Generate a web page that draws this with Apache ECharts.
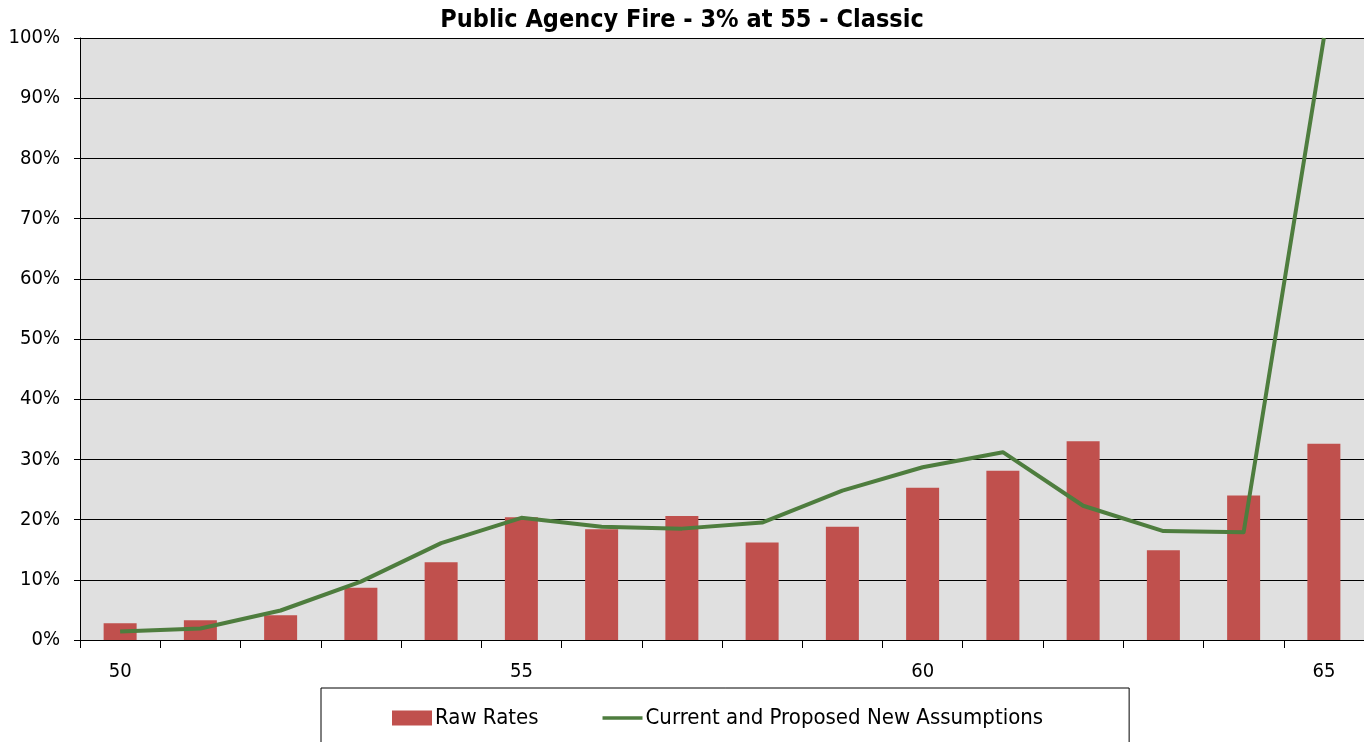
<!DOCTYPE html>
<html>
<head>
<meta charset="utf-8">
<script src="https://cdn.jsdelivr.net/npm/echarts@6/dist/echarts.min.js"></script>
<style>
  html, body { margin: 0; padding: 0; background: #fff; }
  #chart { width: 1364px; height: 742px; }
</style>
</head>
<body>
<div id="chart"></div>
<script>
// ages along the x axis
const ages = ['50', '51', '52', '53', '54', '55', '56', '57', '58', '59', '60', '61', '62', '63', '64', '65'];
// raw rates (%)
const rawRates = [2.8, 3.3, 4.1, 8.7, 12.9, 20.4, 18.4, 20.6, 16.2, 18.8, 25.3, 28.1, 33.0, 14.9, 24.0, 32.6];
// current and proposed new assumptions (%)
const assumptions = [1.4, 1.9, 4.9, 9.7, 16.1, 20.3, 18.8, 18.5, 19.5, 24.8, 28.7, 31.2, 22.3, 18.1, 17.9, 100];

const FONT = '"DejaVu Sans Condensed", "Liberation Sans", sans-serif';

const chart = echarts.init(document.getElementById('chart'), null, { renderer: 'canvas' });

chart.setOption({
  animation: false,
  textStyle: { fontFamily: FONT, color: '#000' },
  title: {
    text: 'Public Agency Fire - 3% at 55 - Classic',
    left: 'center',
    top: 3,
    textStyle: { fontFamily: FONT, fontSize: 25, fontWeight: 'bold', color: '#000' }
  },
  grid: {
    left: 80, right: 0, top: 38, bottom: 102,
    show: true, backgroundColor: '#E0E0E0', borderWidth: 0
  },
  legend: {
    left: 321, top: 688,
    padding: [19, 86, 40, 71],
    itemGap: 64,
    itemWidth: 40, itemHeight: 15,
    borderColor: '#000', borderWidth: 1,
    textStyle: { fontFamily: FONT, fontSize: 22, color: '#000', padding: [0, 0, 0, -2] },
    data: [
      { name: 'Raw Rates', icon: 'rect' },
      // plain line icon, no symbol
      { name: 'Current and Proposed New Assumptions', icon: 'path://M0,0 M0,5.8 H40 V9.2 H0 Z M40,15' }
    ]
  },
  xAxis: {
    type: 'category',
    data: ages,
    boundaryGap: true,
    axisLine: { lineStyle: { color: '#000', width: 1 } },
    axisTick: { show: true, interval: 0, length: 8, lineStyle: { color: '#000' } },
    axisLabel: { interval: 4, margin: 22, fontSize: 20, color: '#000', fontFamily: FONT }
  },
  yAxis: {
    type: 'value',
    min: 0, max: 100, interval: 10,
    axisLine: { show: true, lineStyle: { color: '#000', width: 1 } },
    axisTick: { show: true, length: 6, lineStyle: { color: '#000' } },
    axisLabel: { formatter: '{value}%', margin: 20, fontSize: 20, color: '#000', fontFamily: FONT },
    splitLine: { show: true, lineStyle: { color: '#000', width: 1 } }
  },
  series: [
    {
      name: 'Raw Rates',
      type: 'bar',
      data: rawRates,
      barWidth: 33,
      itemStyle: { color: '#C0504D' }
    },
    {
      name: 'Current and Proposed New Assumptions',
      type: 'line',
      data: assumptions,
      smooth: false,
      symbol: 'none',
      lineStyle: { color: '#4E7D3E', width: 4, join: 'round' },
      itemStyle: { color: '#4E7D3E' }
    }
  ]
});
</script>
</body>
</html>
